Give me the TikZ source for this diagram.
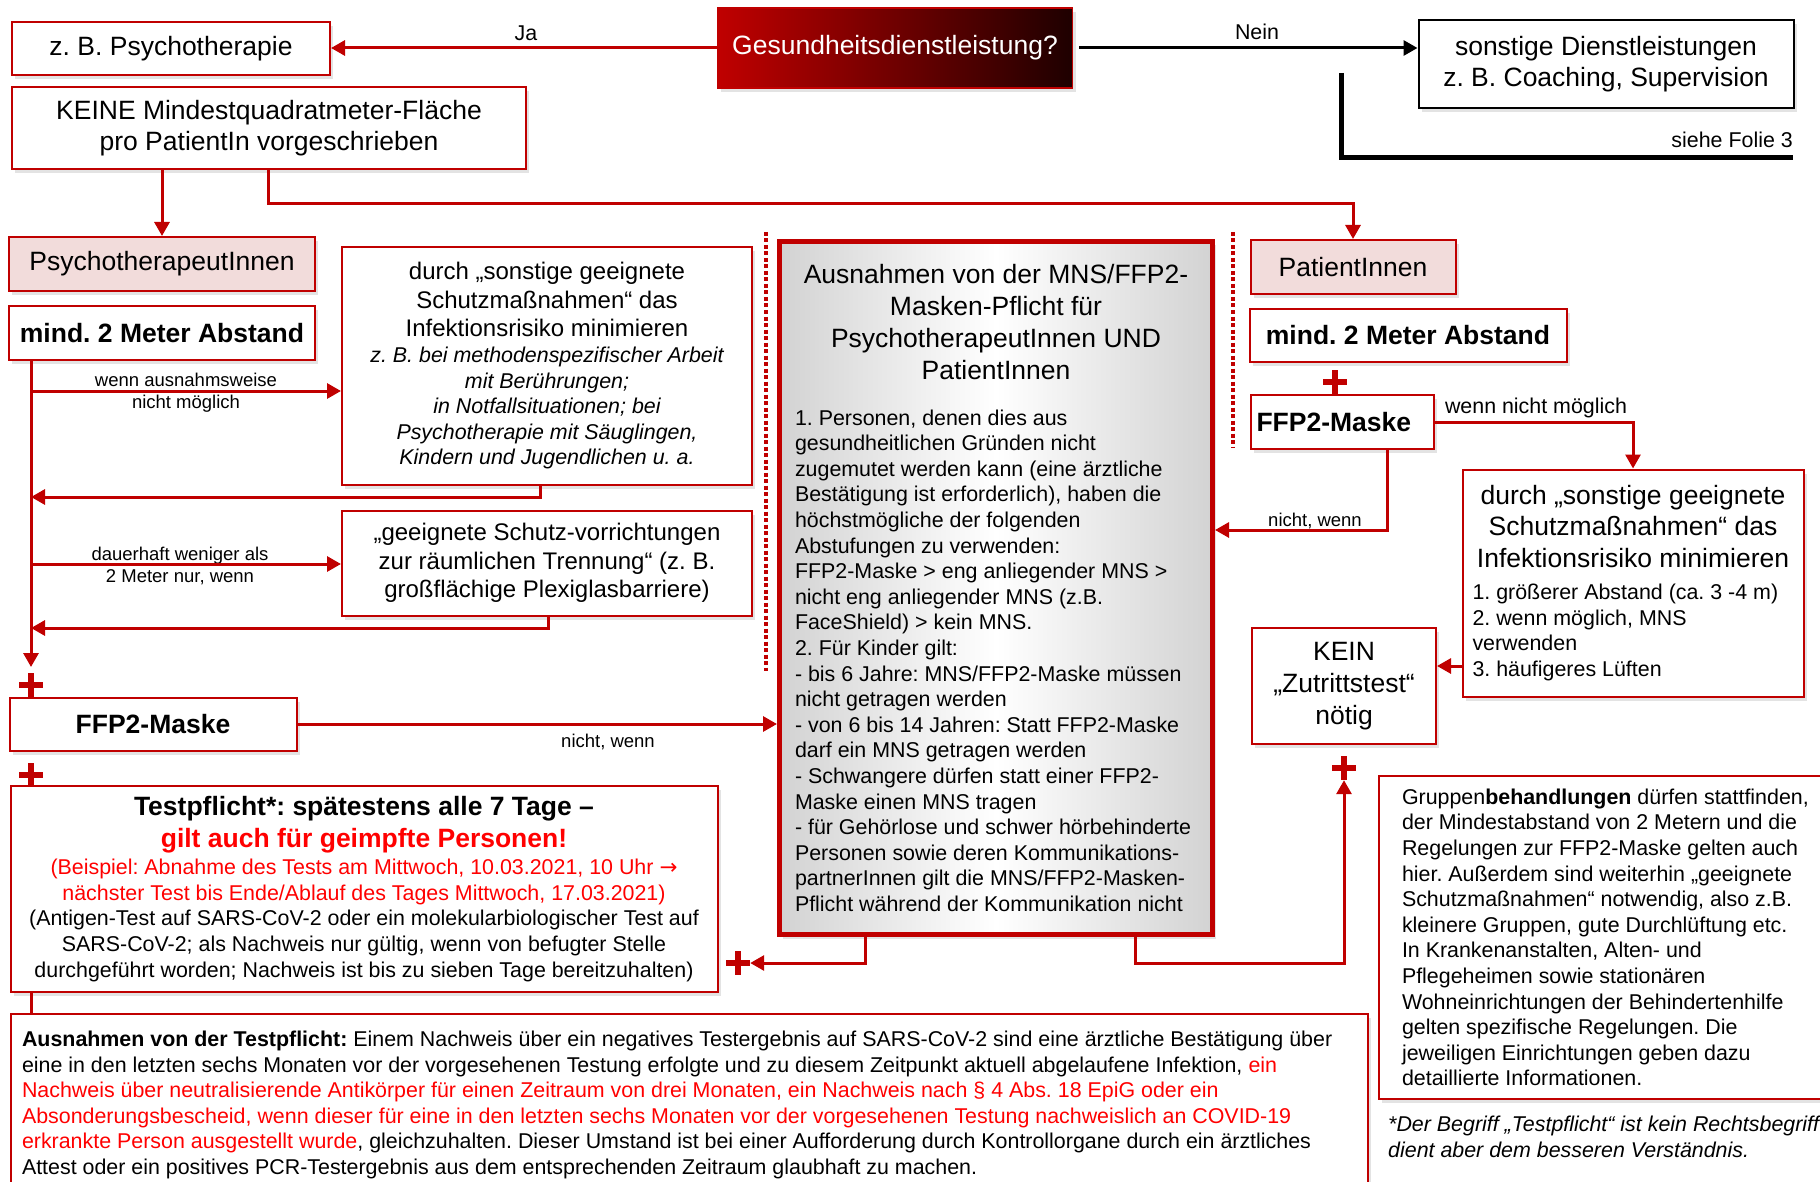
\documentclass[tikz,border=0pt]{standalone}
\usepackage{fontspec}
\setmainfont{Liberation Sans}
\newfontfamily\pfeilschrift{DejaVu Sans}
\usetikzlibrary{arrows.meta,shadows}
\setlength{\parindent}{0pt}
\frenchspacing

\definecolor{rot}{RGB}{192,0,0}
\definecolor{hellrot}{RGB}{255,0,0}
\definecolor{rosa}{RGB}{242,220,219}
\definecolor{dunkelrot}{RGB}{30,0,0}

\newcommand{\fsgross}{\fontsize{26.5pt}{31.5pt}\selectfont}
\newcommand{\fsmittel}{\fontsize{24pt}{28.5pt}\selectfont}
\newcommand{\fsklein}{\fontsize{21.4pt}{25.6pt}\selectfont}
\newcommand{\fslabel}{\fontsize{18.5pt}{22pt}\selectfont}

\begin{document}
\begin{tikzpicture}[x = 1pt, y = -1pt,
	kasten/.style = {draw = rot, line width = 2pt, fill = white, align = center, inner sep = 0pt,
		drop shadow = {opacity = 0.22, shadow xshift = 3pt, shadow yshift = -4pt}},
	rosa kasten/.style = {kasten, fill = rosa},
	pfeil/.style = {draw = rot, line width = 3pt, -{Triangle[length = 14pt, width = 15pt]}},
	linie/.style = {draw = rot, line width = 3pt},
	kreuz/.style = {minimum size = 24pt, inner sep = 0pt, fill = white,
		path picture = {\fill[rot] ([xshift = -3pt]path picture bounding box.north) rectangle ([xshift = 3pt]path picture bounding box.south);
			\fill[rot] ([yshift = 3pt]path picture bounding box.west) rectangle ([yshift = -3pt]path picture bounding box.east);}},
	punkte/.style = {draw = rot, line width = 4.5pt, dash pattern = on 4pt off 2.5pt},
	beschriftung/.style = {font = \fslabel, align = center, inner sep = 0pt}]

	\useasboundingbox (0, 0) rectangle (1820, 1182);

	\node (GDL) at ( 895,   48)	[kasten, left color = rot, right color = dunkelrot, line width = 1.5pt, text = white, font = \fsgross, minimum width = 355, minimum height = 80]	{Gesundheitsdienstleistung?};
	\node (ZBP) at ( 171,   49)	[kasten, font = \fsgross, minimum width = 318, minimum height = 53]	{z. B. Psychotherapie};
	\node (SON) at (1606,   64)	[kasten, draw = black, font = \fsgross, minimum width = 375, minimum height = 88]	{sonstige Dienstleistungen\\z. B. Coaching, Supervision};
	\node (KMF) at ( 269,  128)	[kasten, font = \fsgross, minimum width = 514, minimum height = 82]	{KEINE Mindestquadratmeter-Fläche\\pro PatientIn vorgeschrieben};

	\node (PTI) at ( 162,  264)	[rosa kasten, font = \fsgross, minimum width = 306, minimum height = 54]	{PsychotherapeutInnen};
	\node (AB1) at ( 162,  333)	[kasten, font = \fsgross\bfseries, minimum width = 306, minimum height = 54]	{mind. 2 Meter Abstand};
	\node (SM1) at ( 547,  366)	[kasten, align = flush center, text width = 400pt, minimum width = 410, minimum height = 238]
		{{\fsmittel durch „sonstige geeignete\\Schutzmaßnahmen“ das\\Infektionsrisiko minimieren\par}
		{\fsklein\itshape z. B. bei methodenspezifischer Arbeit\\mit Berührungen;\\in Notfallsituationen; bei\\Psychotherapie mit Säuglingen,\\Kindern und Jugendlichen u. a.\par}};
	\node (SV)  at ( 547,  563)	[kasten, align = flush center, text width = 400pt, minimum width = 410, minimum height = 105]
		{{\fsmittel „geeignete Schutz-vorrichtungen\\zur räumlichen Trennung“ (z. B.\\großflächige Plexiglasbarriere)\par}};
	\node (P1)  at (  31,  685)	[kreuz]	{};
	\node (FM1) at ( 153,  724)	[kasten, font = \fsgross\bfseries, minimum width = 287, minimum height = 53]	{FFP2-Maske};
	\node (P2)  at (  31,  775)	[kreuz]	{};
	\node (TP)  at ( 364,  889)	[kasten, align = flush center, text width = 696pt, minimum width = 707, minimum height = 206]
		{{\fsgross\bfseries Testpflicht*: spätestens alle 7 Tage –\\\textcolor{hellrot}{gilt auch für geimpfte Personen!}\par}
		\vspace{2pt}
		{\fsklein\color{hellrot}(Beispiel: Abnahme des Tests am Mittwoch, 10.03.2021, 10 Uhr {\pfeilschrift →}\\nächster Test bis Ende/Ablauf des Tages Mittwoch, 17.03.2021)\par}
		{\fsklein (Antigen-Test auf SARS-CoV-2 oder ein molekularbiologischer Test auf\\SARS-CoV-2; als Nachweis nur gültig, wenn von befugter Stelle\\durchgeführt worden; Nachweis ist bis zu sieben Tage bereitzuhalten)\par}};
	\node (AT)  at (  10, 1013)	[kasten, anchor = north west, align = flush left, text width = 1335pt, minimum width = 1357, minimum height = 182]
		{{\fsklein\textbf{Ausnahmen von der Testpflicht:} Einem Nachweis über ein negatives Testergebnis auf SARS-CoV-2 sind eine ärztliche Bestätigung über\\
		eine in den letzten sechs Monaten vor der vorgesehenen Testung erfolgte und zu diesem Zeitpunkt aktuell abgelaufene Infektion, \textcolor{hellrot}{ein}\\
		\textcolor{hellrot}{Nachweis über neutralisierende Antikörper für einen Zeitraum von drei Monaten, ein Nachweis nach § 4 Abs. 18 EpiG oder ein}\\
		\textcolor{hellrot}{Absonderungsbescheid, wenn dieser für eine in den letzten sechs Monaten vor der vorgesehenen Testung nachweislich an COVID-19}\\
		\textcolor{hellrot}{erkrankte Person ausgestellt wurde}, gleichzuhalten. Dieser Umstand ist bei einer Aufforderung durch Kontrollorgane durch ein ärztliches\\
		Attest oder ein positives PCR-Testergebnis aus dem entsprechenden Zeitraum glaubhaft zu machen.\par}};

	\node (AM)  at ( 996,  588)	[kasten, line width = 5pt, left color = gray!35, right color = gray!35, middle color = white, align = flush left, text width = 402pt, minimum width = 433, minimum height = 693]
		{{\centering\fontsize{26.5pt}{32pt}\selectfont Ausnahmen von der MNS/FFP2-\\Masken-Pflicht für\\PsychotherapeutInnen UND\\PatientInnen\par}
		\vspace{20pt}
		{\fsklein 1. Personen, denen dies aus\\gesundheitlichen Gründen nicht\\zugemutet werden kann (eine ärztliche\\Bestätigung ist erforderlich), haben die\\höchstmögliche der folgenden\\Abstufungen zu verwenden:\\FFP2-Maske > eng anliegender MNS >\\nicht eng anliegender MNS (z.B.\\FaceShield) > kein MNS.\\2. Für Kinder gilt:\\- bis 6 Jahre: MNS/FFP2-Maske müssen\\nicht getragen werden\\- von 6 bis 14 Jahren: Statt FFP2-Maske\\darf ein MNS getragen werden\\- Schwangere dürfen statt einer FFP2-\\Maske einen MNS tragen\\- für Gehörlose und schwer hörbehinderte\\Personen sowie deren Kommunikations-\\partnerInnen gilt die MNS/FFP2-Masken-\\Pflicht während der Kommunikation nicht\par}};
	\node (P4)  at ( 738,  963)	[kreuz]	{};

	\node (PAT) at (1353,  267)	[rosa kasten, font = \fsgross, minimum width = 205, minimum height = 54]	{PatientInnen};
	\node (AB2) at (1408,  335)	[kasten, font = \fsgross\bfseries, minimum width = 317, minimum height = 53]	{mind. 2 Meter Abstand};
	\node (P3)  at (1335,  382)	[kreuz]	{};
	\node (FM2) at (1342,  422)	[kasten, font = \fsgross\bfseries, align = flush left, text width = 171pt, minimum width = 183, minimum height = 54]	{FFP2-Maske};
	\node (SM2) at (1633,  583)	[kasten, align = flush left, text width = 321pt, minimum width = 341, minimum height = 227]
		{{\centering\fsgross durch „sonstige geeignete\\Schutzmaßnahmen“ das\\Infektionsrisiko minimieren\par}
		\vspace{7pt}
		{\fsklein 1. größerer Abstand (ca. 3 -4 m)\\2. wenn möglich, MNS\\verwenden\\3. häufigeres Lüften\par}};
	\node (KZ)  at (1344,  686)	[kasten, font = \fontsize{26.5pt}{32pt}\selectfont, minimum width = 184, minimum height = 116]	{KEIN\\„Zutrittstest“\\nötig};
	\node (P5)  at (1344,  768)	[kreuz]	{};
	\node (GB)  at (1378,  775)	[kasten, anchor = north west, align = flush left, text width = 410pt, minimum width = 456, minimum height = 323]
		{{\fsklein Gruppen\textbf{behandlungen} dürfen stattfinden,\\der Mindestabstand von 2 Metern und die\\Regelungen zur FFP2-Maske gelten auch\\hier. Außerdem sind weiterhin „geeignete\\Schutzmaßnahmen“ notwendig, also z.B.\\kleinere Gruppen, gute Durchlüftung etc.\\In Krankenanstalten, Alten- und\\Pflegeheimen sowie stationären\\Wohneinrichtungen der Behindertenhilfe\\gelten spezifische Regelungen. Die\\jeweiligen Einrichtungen geben dazu\\detaillierte Informationen.\par}};
	\node (FN)  at (1388, 1116)	[anchor = north west, align = left, inner sep = 0pt, font = \fsklein\itshape]	{*Der Begriff „Testpflicht“ ist kein Rechtsbegriff\\dient aber dem besseren Verständnis.};

	\node (lJa)   at ( 526,   33)	[beschriftung, font = \fsklein]	{Ja};
	\node (lNein) at (1257,   32)	[beschriftung, font = \fsklein]	{Nein};
	\node (lFolie) at (1793, 148)	[beschriftung, font = \fsklein, anchor = base east]	{siehe Folie 3};
	\node (lAus)  at ( 186,  393)	[beschriftung]	{wenn ausnahmsweise\\nicht möglich};
	\node (lDau)  at ( 180,  566)	[beschriftung]	{dauerhaft weniger als\\2 Meter nur, wenn};
	\node (lNW1)  at ( 608,  742)	[beschriftung]	{nicht, wenn};
	\node (lWNM)  at (1536,  408)	[beschriftung, font = \fsklein]	{wenn nicht möglich};
	\node (lNW2)  at (1315,  521)	[beschriftung]	{nicht, wenn};

	\coordinate (S1) at (1341,  73);
	\coordinate (S3) at (1793, 158);
	\coordinate (K1) at ( 268, 169);
	\coordinate (K2) at ( 268, 204);
	\coordinate (L0) at (  31, 360);
	\coordinate (L1) at (  31, 667);
	\coordinate (L2) at (  31, 391);
	\coordinate (L3) at (  31, 497);
	\coordinate (L4) at (  31, 564);
	\coordinate (L5) at (  31, 628);
	\coordinate (R1) at ( 540, 485);
	\coordinate (R2) at ( 548, 616);
	\coordinate (T1) at (  31, 992);
	\coordinate (M1) at ( 865, 934);
	\coordinate (M2) at (1135, 934);
	\coordinate (M3) at (1135, 963);
	\coordinate (F1) at (1387, 449);
	\coordinate (F2) at (1387, 530);
	\coordinate (Z1) at (1462, 666);

	\draw[punkte] (766, 232) -- (766, 671);
	\draw[punkte] (1233, 232) -- (1233, 447);

	\draw[pfeil] (GDL.west) -- (GDL.west -| ZBP.east);
	\draw[line width = 3pt, -{Triangle[length = 14pt, width = 15pt]}] ([xshift = 6pt]GDL.east) -- (GDL.east -| SON.west);
	\draw[line width = 5pt] (S1) |- (S3);
	\draw[pfeil] (KMF.south -| PTI.north) -- (PTI.north);
	\draw[pfeil] (K1) -- (K2) -| (PAT.north);
	\draw[pfeil] (L0) -- (L1);
	\draw[pfeil] (L2) -- (L2 -| SM1.west);
	\draw[pfeil] (R1) |- (L3);
	\draw[pfeil] (L4) -- (L4 -| SV.west);
	\draw[pfeil] (R2) |- (L5);
	\draw[pfeil] (FM1.east) -- (FM1.east -| AM.west);
	\draw[linie] (T1) -- (T1 |- AT.north);
	\draw[pfeil] (M1) |- (P4.east);
	\draw[pfeil] (M2) -- (M3) -| (P5.south);
	\draw[pfeil] (FM2.east) -| (SM2.north);
	\draw[pfeil] (F1) -- (F2) -- (F2 -| AM.east);
	\draw[pfeil] (Z1) -- (Z1 -| KZ.east);
\end{tikzpicture}
\end{document}
